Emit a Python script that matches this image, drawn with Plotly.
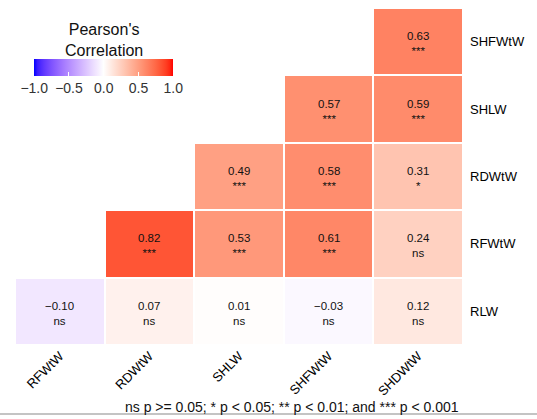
import numpy as np
import plotly.graph_objects as go

# Variables on each axis
col_vars = ["RFWtW", "RDWtW", "SHLW", "SHFWtW", "SHDWtW"]
row_vars = ["RLW", "RFWtW", "RDWtW", "SHLW", "SHFWtW"]  # bottom to top

# Pearson coefficients per row (None = cell not drawn)
r_rlw = [-0.10, 0.07, 0.01, -0.03, 0.12]
r_rfwtw = [None, 0.82, 0.53, 0.61, 0.24]
r_rdwtw = [None, None, 0.49, 0.58, 0.31]
r_shlw = [None, None, None, 0.57, 0.59]
r_shfwtw = [None, None, None, None, 0.63]

# Significance codes per row
s_rlw = ["ns", "ns", "ns", "ns", "ns"]
s_rfwtw = [None, "***", "***", "***", "ns"]
s_rdwtw = [None, None, "***", "***", "*"]
s_shlw = [None, None, None, "***", "***"]
s_shfwtw = [None, None, None, None, "***"]

cbar_ticks = [-1.0, -0.5, 0.0, 0.5, 1.0]
legend_title = "Pearson's<br>Correlation"
caption = "ns p >= 0.05; * p < 0.05; ** p < 0.01; and *** p < 0.001"

z = [r_rlw, r_rfwtw, r_rdwtw, r_shlw, r_shfwtw]
sig = [s_rlw, s_rfwtw, s_rdwtw, s_shlw, s_shfwtw]


# --- blue / white / red diverging scale interpolated in CIELAB ---
def srgb_to_lab(rgb):
    c = np.array(rgb, dtype=float) / 255.0
    lin = np.where(c <= 0.04045, c / 12.92, ((c + 0.055) / 1.055) ** 2.4)
    m = np.array([[0.4124, 0.3576, 0.1805],
                  [0.2126, 0.7152, 0.0722],
                  [0.0193, 0.1192, 0.9505]])
    xyz = m @ lin / np.array([0.95047, 1.0, 1.08883])
    f = np.where(xyz > 0.008856, np.cbrt(xyz), 7.787 * xyz + 16 / 116)
    return np.array([116 * f[1] - 16, 500 * (f[0] - f[1]), 200 * (f[1] - f[2])])


def lab_to_srgb(lab):
    L, a, b = lab
    fy = (L + 16) / 116
    fx = fy + a / 500
    fz = fy - b / 200
    f = np.array([fx, fy, fz])
    xyz = np.where(f ** 3 > 0.008856, f ** 3, (f - 16 / 116) / 7.787)
    xyz = xyz * np.array([0.95047, 1.0, 1.08883])
    m = np.array([[3.2406, -1.5372, -0.4986],
                  [-0.9689, 1.8758, 0.0415],
                  [0.0557, -0.2040, 1.0570]])
    lin = np.clip(m @ xyz, 0, 1)
    c = np.where(lin <= 0.0031308, 12.92 * lin, 1.055 * lin ** (1 / 2.4) - 0.055)
    c = np.clip(np.round(c * 255), 0, 255).astype(int)
    return f"rgb({c[0]},{c[1]},{c[2]})"


lab_lo = srgb_to_lab((0, 0, 255))
lab_mid = srgb_to_lab((255, 255, 255))
lab_hi = srgb_to_lab((255, 0, 0))
colorscale = []
for t in np.linspace(0, 1, 41):
    if t <= 0.5:
        u = t / 0.5
        lab = lab_lo + (lab_mid - lab_lo) * u
    else:
        u = (t - 0.5) / 0.5
        lab = lab_mid + (lab_hi - lab_mid) * u
    colorscale.append([float(t), lab_to_srgb(lab)])

W, H = 537, 419
ML, MR, MT, MB = 15, 74, 8, 74
plot_w = W - ML - MR
plot_h = H - MT - MB


def px_x(px):
    """Pixel column -> paper fraction."""
    return (px - ML) / plot_w


def px_y(py):
    """Pixel row (from top) -> paper fraction."""
    return (H - MB - py) / plot_h


FONT = "Liberation Sans"

fig = go.Figure(
    go.Heatmap(
        z=z,
        x=col_vars,
        y=row_vars,
        zmin=-1,
        zmax=1,
        colorscale=colorscale,
        xgap=2,
        ygap=2,
        hoverongaps=False,
        colorbar=dict(
            orientation="h",
            xref="container",
            yref="container",
            x=41 / W,
            xanchor="left",
            y=1 - 59 / H,
            yanchor="top",
            len=139,
            lenmode="pixels",
            thickness=17,
            xpad=0,
            ypad=0,
            outlinewidth=0,
            tickvals=cbar_ticks,
            ticktext=[f"{v:.1f}".replace("-", "\u2212") for v in cbar_ticks],
            ticks="inside",
            ticklen=4,
            tickcolor="white",
            tickfont=dict(family=FONT, size=14, color="#333333"),
        ),
    )
)

# Coefficient (first line) and significance code (second line) per cell
annotations = []
for i, row in enumerate(row_vars):
    for j, col in enumerate(col_vars):
        v = z[i][j]
        if v is None:
            continue
        annotations.append(dict(
            x=col, y=row, xref="x", yref="y",
            text=f"{v:.2f}".replace("-", "\u2212") + "<br>" + sig[i][j],
            showarrow=False, yshift=-2, borderpad=0,
            font=dict(family=FONT, size=11.5, color="#111111"),
        ))

# Legend title above the colour bar
annotations.append(dict(
    x=px_x(104), y=px_y(40), xref="paper", yref="paper",
    xanchor="center", yanchor="middle", text=legend_title, showarrow=False,
    borderpad=0,
    font=dict(family=FONT, size=16, color="#111111"),
))

annotations.append(dict(
    x=px_x(461), y=px_y(407), xref="paper", yref="paper",
    xanchor="right", yanchor="middle",
    text=caption, showarrow=False,
    font=dict(family=FONT, size=14, color="#111111"),
))

fig.update_layout(
    width=W,
    height=H,
    margin=dict(l=ML, r=MR, t=MT, b=MB, pad=0, autoexpand=False),
    paper_bgcolor="white",
    plot_bgcolor="white",
    annotations=annotations,
    shapes=[dict(
        type="line", xref="paper", yref="paper",
        x0=px_x(0), x1=px_x(W), y0=px_y(414), y1=px_y(414),
        line=dict(color="#c4c4c4", width=2),
    )],
    xaxis=dict(
        range=[-0.5, 4.5], showgrid=False, zeroline=False, ticks="",
        tickangle=-45, tickfont=dict(family=FONT, size=13, color="black"),
        fixedrange=True,
    ),
    yaxis=dict(
        range=[-0.5, 4.5], side="right", showgrid=False, zeroline=False, ticks="",
        ticklabelstandoff=6,
        tickfont=dict(family=FONT, size=13, color="black"),
        fixedrange=True,
    ),
)

fig.write_html("out.html")
